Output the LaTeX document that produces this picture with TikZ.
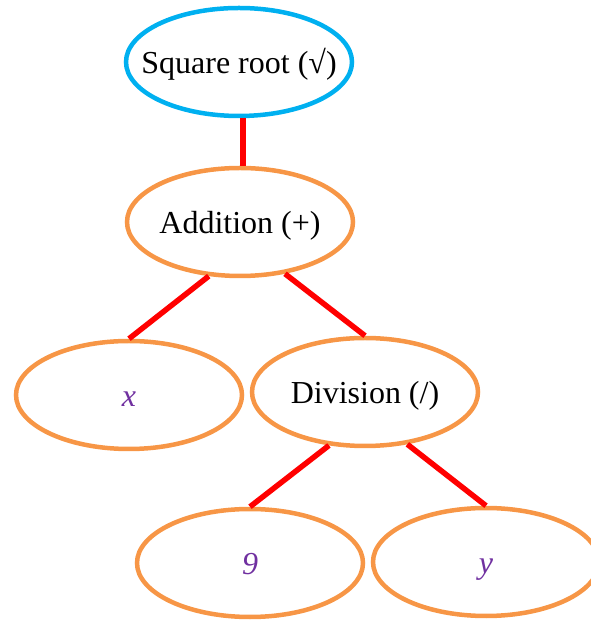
\documentclass[tikz,border=0pt]{standalone}
\usepackage{fontspec}
\setmainfont{Liberation Serif}
\usetikzlibrary{shapes.geometric}
\definecolor{rootblue}{HTML}{00B0F0}
\definecolor{nodeorange}{HTML}{F79646}
\definecolor{leafpurple}{HTML}{7030A0}
\newcommand{\nodetext}[1]{\makebox[0pt]{#1}}

\begin{document}
\begin{tikzpicture}[x=1pt, y=1pt,
    opnode/.style={ellipse, draw=nodeorange, line width=4.5pt, minimum width=226pt,
                   minimum height=108pt, inner sep=0pt, text height=24pt, text depth=0pt,
                   font=\fontsize{32}{38}\selectfont},
    rootnode/.style={opnode, draw=rootblue},
    leafnode/.style={opnode, text=leafpurple, font=\fontsize{32}{38}\selectfont\itshape},
    branch/.style={red, line width=5.5pt}]
    \useasboundingbox (0,0) rectangle (590,623);

    % Nodes
    \node[rootnode] (sqrt) at (239,561) {\nodetext{Square root (√)}};
    \node[opnode] (add) at (240,401) {\nodetext{Addition (+)}};
    \node[leafnode] (x) at (129,228) {\nodetext{x}};
    \node[opnode] (div) at (365,231) {\nodetext{Division (/)}};
    \node[leafnode] (nine) at (250,60) {\nodetext{9}};
    \node[leafnode] (y) at (486,61) {\nodetext{y}};

    % Branches
    \draw[branch] ([xshift=4pt]sqrt.south) -- ([xshift=3pt]add.north);
    \draw[branch] (add.240) -- (x.north);
    \draw[branch] (add.311) -- (div.north);
    \draw[branch] (div.236) -- (nine.north);
    \draw[branch] (div.309) -- (y.north);

\end{tikzpicture}
\end{document}
